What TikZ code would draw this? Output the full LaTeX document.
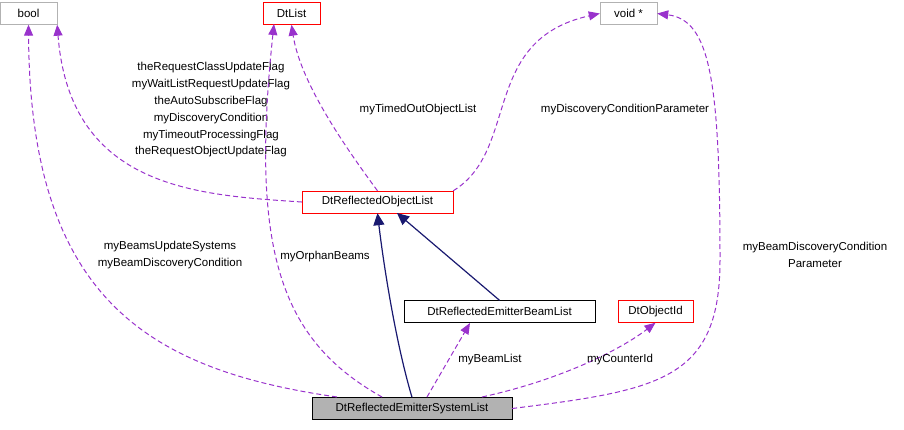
\documentclass[tikz,border=0pt]{standalone}
\usepackage{fontspec}
\setmainfont{Liberation Sans}
\usetikzlibrary{arrows.meta}
\definecolor{pur}{RGB}{153,50,204}
\definecolor{nav}{RGB}{25,25,112}
\begin{document}
\begin{tikzpicture}[x=1pt,y=-1pt,
 box/.style={draw,rectangle,minimum height=22pt,inner xsep=4pt,font=\fontsize{11.5}{13.5}\selectfont},
 dep/.style={pur,line width=1pt,dash pattern=on 5pt off 3pt,-{Triangle[length=11pt,width=9pt]}},
 inh/.style={nav,line width=1.2pt,-{Triangle[length=12pt,width=11pt]}},
 lab/.style={font=\fontsize{11.5}{16.8}\selectfont,align=center,inner sep=1pt}]
\useasboundingbox (0,0) rectangle (904,429);
\node[box,draw=gray!60,minimum width=57pt] (bool) at (28.5,13.5) {bool};
\node[box,draw=red,minimum width=57pt] (dtlist) at (291.5,13.5) {DtList};
\node[box,draw=gray!60,minimum width=57pt] (void) at (628.5,13.5) {void *};
\node[box,draw=red,minimum width=151pt] (rol) at (377.5,202) {DtReflectedObjectList};
\node[box,minimum width=191pt] (ebl) at (499.5,311.5) {DtReflectedEmitterBeamList};
\node[box,draw=red,minimum width=75pt] (oid) at (655.5,311.5) {DtObjectId};
\node[box,fill=gray!60,minimum width=200pt] (esl) at (412,408.5) {DtReflectedEmitterSystemList};

\draw[dep] (rol.west) .. controls (200,195) and (70,190) .. (bool.south east);
\node[lab] at (211,110) {theRequestClassUpdateFlag\\myWaitListRequestUpdateFlag\\theAutoSubscribeFlag\\myDiscoveryCondition\\myTimeoutProcessingFlag\\theRequestObjectUpdateFlag};
\draw[dep] (rol.north) .. controls (340,140) and (300,80) .. (dtlist.south);
\node[lab] at (418,110) {myTimedOutObjectList};
\draw[dep] (rol.north east) .. controls (520,150) and (480,40) .. (void.west);
\node[lab] at (625,110) {myDiscoveryConditionParameter};
\draw[inh] (esl.north) .. controls (395,340) and (383,260) .. (rol.south);
\draw[inh] (ebl.north) -- (397,213);
\draw[dep] (337,397) .. controls (150,370) and (30,300) .. (bool.south);
\node[lab] at (170,255) {myBeamsUpdateSystems\\myBeamDiscoveryCondition};
\draw[dep] (382,397) .. controls (280,340) and (250,250) .. (274,24);
\node[lab] at (325,257) {myOrphanBeams};
\draw[dep] (427,397) -- (470,323);
\node[lab] at (490,360) {myBeamList};
\draw[dep] (482,397) .. controls (560,380) and (620,350) .. (oid.south);
\node[lab] at (620,360) {myCounterId};
\draw[dep] (esl.east) .. controls (660,390) and (720,380) .. (720,260) .. controls (720,80) and (710,20) .. (void.east);
\node[lab] at (815,255) {myBeamDiscoveryCondition\\Parameter};
\end{tikzpicture}
\end{document}
